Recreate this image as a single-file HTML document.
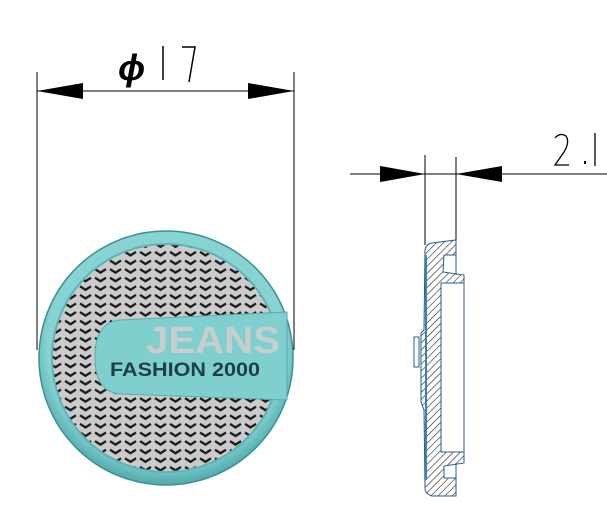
<!DOCTYPE html>
<html><head><style>
html,body{margin:0;padding:0;background:#fff;width:607px;height:505px;overflow:hidden}
</style></head><body>
<svg width="607" height="505" viewBox="0 0 607 505" xmlns="http://www.w3.org/2000/svg">
<defs>
<pattern id="chev" x="3" y="0" width="15" height="8.6" patternUnits="userSpaceOnUse">
<polyline points="2,2.5 7.5,6 13,2.5" fill="none" stroke="#1a1a1a" stroke-width="2.3"/>
</pattern>
<pattern id="hatch" width="5" height="5" patternUnits="userSpaceOnUse" patternTransform="rotate(45)">
<line x1="0" y1="0" x2="0" y2="5" stroke="#111" stroke-width="1.1"/>
</pattern>
<radialGradient id="ring" cx="50%" cy="45%" r="55%">
<stop offset="0.85" stop-color="#86d3d2"/><stop offset="1" stop-color="#4fa9ab"/>
</radialGradient>
<clipPath id="disk"><circle cx="166" cy="358" r="113"/></clipPath>
</defs>
<line x1="37" y1="72" x2="37" y2="350" stroke="#000" stroke-width="1"/>
<line x1="294" y1="72" x2="294" y2="350" stroke="#000" stroke-width="1"/>
<line x1="37" y1="91" x2="294" y2="91" stroke="#000" stroke-width="1"/>
<polygon points="37,91 83,83 83,99" fill="#000"/>
<polygon points="294,91 248,83 248,99" fill="#000"/>
<text x="118" y="80" font-family="Liberation Sans, sans-serif" font-size="36" font-style="italic" font-weight="bold">ϕ</text>
<line x1="163" y1="46" x2="163" y2="80" stroke="#000" stroke-width="1.5"/>
<polyline points="182,47 195,47 189,82" fill="none" stroke="#000" stroke-width="1.5"/>
<circle cx="166" cy="358" r="127" fill="url(#ring)" stroke="#3c8f92" stroke-width="1.5"/>
<circle cx="166" cy="358" r="114" fill="#cbcbcb" stroke="#5eb3b5" stroke-width="2"/>
<g clip-path="url(#disk)"><rect x="50" y="240" width="240" height="240" fill="url(#chev)"/></g>
<path d="M120,320 L287,312 L287,400 L120,394 Q95,392 95,357 Q95,322 120,320 Z" fill="#7fcfcf" stroke="#5aabad" stroke-width="1"/>
<text x="146" y="353" font-family="Liberation Sans, sans-serif" font-size="38" font-weight="bold" fill="#c8cdcd" textLength="134" lengthAdjust="spacingAndGlyphs">JEANS</text>
<text x="110" y="376" font-family="Liberation Sans, sans-serif" font-size="19" font-weight="bold" fill="#1e3f44" textLength="150" lengthAdjust="spacingAndGlyphs">FASHION  2000</text>
<line x1="350" y1="174" x2="607" y2="174" stroke="#000" stroke-width="1"/>
<line x1="425" y1="155" x2="425" y2="245" stroke="#000" stroke-width="1"/>
<line x1="456" y1="157" x2="456" y2="240" stroke="#000" stroke-width="1"/>
<polygon points="425,174 380,166 380,182" fill="#000"/>
<polygon points="456,174 502,166 502,182" fill="#000"/>
<path d="M555,138 Q560,132 566,136 Q570,142 564,152 L555,165 L569,165" fill="none" stroke="#000" stroke-width="1.3"/>
<rect x="584" y="161" width="2" height="3" fill="#000"/>
<line x1="595" y1="133" x2="595" y2="166" stroke="#000" stroke-width="1.3"/>
<path d="M425,250 Q426,244 432,243 L456,240 L456,255 L444,255 L443,272 L464,275 L464,283 L441,285 L441,450 L464,452 L464,463 L444,466 L444,478 L456,478 L456,496 L432,496 Q425,494 425,488 L424,410 L421,402 L421,333 L424,330 Z" fill="url(#hatch)" stroke="#2a5b8c" stroke-width="1"/>
<rect x="441" y="283" width="23" height="169" fill="#fff" stroke="#2a5b8c" stroke-width="1"/>
<line x1="456" y1="255" x2="456" y2="275" stroke="#2a5b8c" stroke-width="1"/>
<line x1="456" y1="463" x2="456" y2="478" stroke="#2a5b8c" stroke-width="1"/>
<rect x="414" y="337" width="5" height="30" fill="#fff" stroke="#2a5b8c" stroke-width="1"/>
<line x1="426" y1="255" x2="426" y2="480" stroke="#3d7fc4" stroke-width="2"/>
</svg>
</body></html>
